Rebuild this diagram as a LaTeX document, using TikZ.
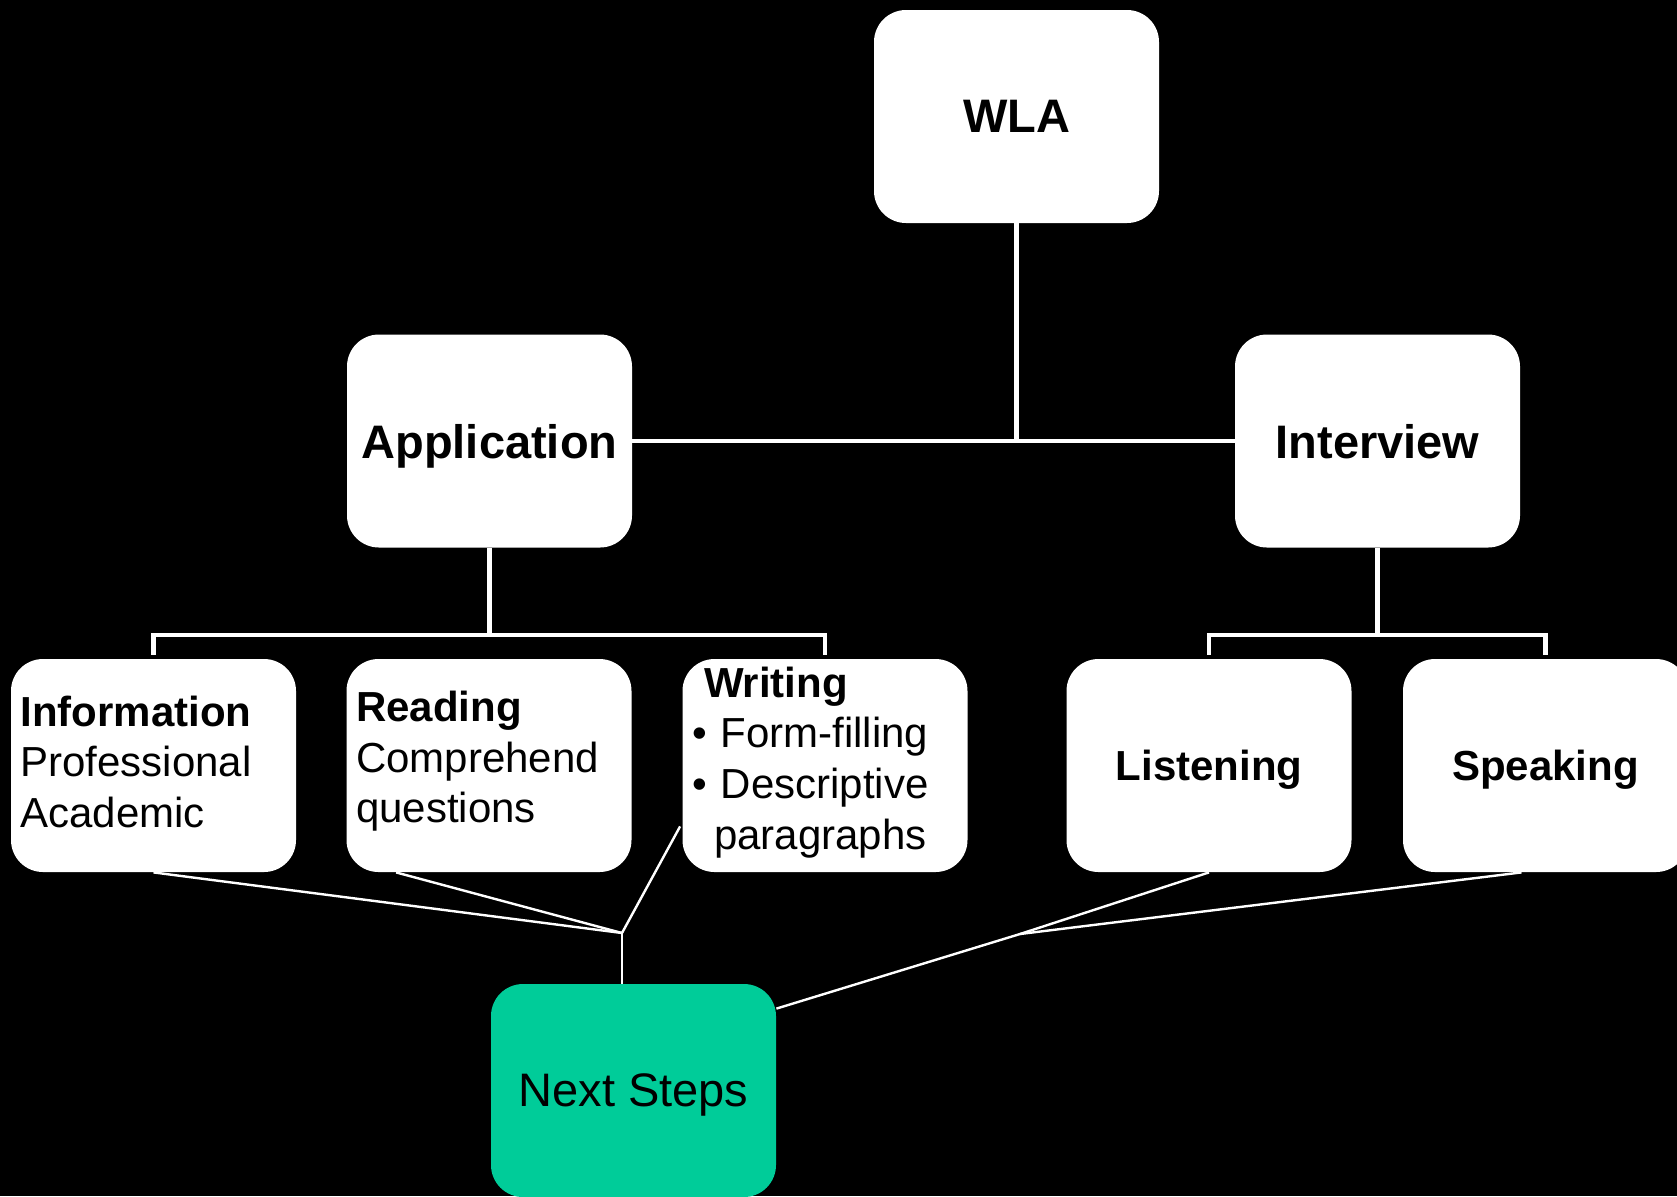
\documentclass[tikz,border=0pt]{standalone}
\usepackage{fontspec}
\setmainfont{Liberation Sans}
\usetikzlibrary{calc}
\definecolor{nsgreen}{RGB}{0,204,153}
\newcommand\dpfix[1]{\rule[-#1]{0pt}{#1}}
\begin{document}
\begin{tikzpicture}[x=0.5pt,y=-0.5pt,
  box/.style={rectangle, rounded corners=16pt, fill=white, draw=none,
    minimum width=142.5pt, minimum height=106.5pt, inner sep=0pt, text=black},
  topbox/.style={box, text depth=0pt, font=\fontsize{23.5}{28}\selectfont\bfseries},
  subbox/.style={box, font=\fontsize{21}{25.3}\selectfont, text width=133pt, align=left},
  lowbold/.style={box, text depth=0pt, font=\fontsize{21}{25.3}\selectfont\bfseries},
  nextbox/.style={box, text depth=0pt, fill=nsgreen, font=\fontsize{23.5}{28}\selectfont},
  tree/.style={draw=white, line width=2.4pt},
  thinline/.style={draw=white, line width=1.2pt}]
\path[use as bounding box, fill=black] (0,0) rectangle (1677,1196);

% nodes
\node[topbox] (wla) at (1016.5,116.5) {WLA};
\node[topbox] (app) at (489.5,441) {Application};
\node[topbox] (int) at (1377.5,441) {Interview};
\node[subbox] (info) at (153.5,765.5) {\textbf{Information}\\Professional\\Academic\dpfix{4pt}};
\node[subbox] (read) at (489,765.5) {\textbf{Reading}\\Comprehend\\questions\dpfix{8.4pt}};
\node[subbox] (writ) at (825,765.5) {\hspace*{6pt}\textbf{Writing}\\\textbullet\ Form-filling\\\textbullet\ Descriptive\\\hspace*{11pt}paragraphs\dpfix{7.6pt}};
\node[lowbold] (listen) at (1209,765.5) {Listening};
\node[lowbold] (speak) at (1545.5,765.5) {Speaking};
\node[nextbox] (ns) at (633.5,1090.5) {Next Steps};

% tree connectors
\coordinate (abr) at (489.5,635);
\coordinate (ibr) at (1377.5,635);
\draw[tree] (wla.south) -- (wla.south |- app.east);
\draw[tree] (app.east) -- (int.west);
\draw[tree] (app.south) -- (abr);
\draw[tree] ($(info.north)+(0,-4)$) |- (abr) -| ($(writ.north)+(0,-4)$);
\draw[tree] (int.south) -- (ibr);
\draw[tree] ($(listen.north)+(0,-4)$) |- (ibr) -| ($(speak.north)+(0,-4)$);

% next-steps connectors
\coordinate (jl) at (622,933);
\coordinate (jr) at (1020,934);
\draw[thinline] (info.south) -- (jl);
\draw[thinline] ($(read.south west)+(50,0)$) -- (jl);
\draw[thinline] ($(writ.south west)+(-2,-46)$) -- (jl);
\draw[thinline] (jl) -- (jl |- ns.north);
\draw[thinline] (listen.south) -- (jr);
\draw[thinline] ($(speak.south)+(-24,0)$) -- (jr);
\draw[thinline] (jr) -- ($(ns.north east)+(0,25)$);
\end{tikzpicture}
\end{document}
